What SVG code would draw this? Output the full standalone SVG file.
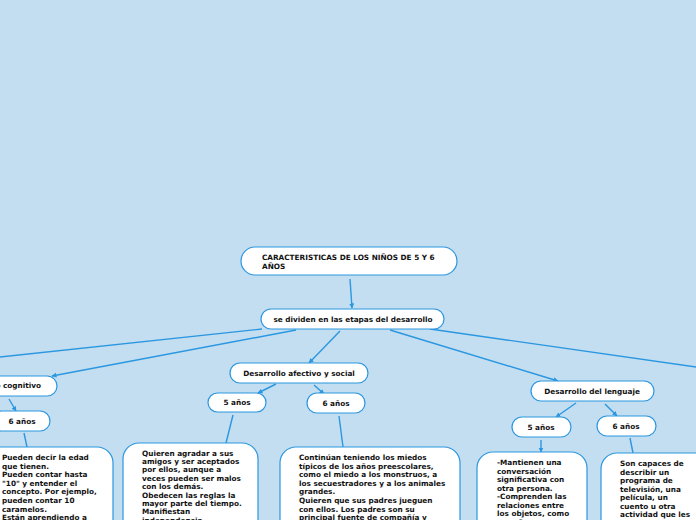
<svg xmlns="http://www.w3.org/2000/svg" width="696" height="520" viewBox="0 0 696 520">
<defs>
<style>
.bg{fill:#c3def1}
.n{fill:#ffffff;stroke:#2b97e0;stroke-width:1.2}
.t{font-family:"DejaVu Sans",Verdana,sans-serif;font-weight:bold;font-size:7.3px;fill:#111111}
.c{text-anchor:middle}
.e{stroke:#2b97e0;stroke-width:1.4;fill:none}
.a{marker-end:url(#ah)}
</style>
<marker id="ah" viewBox="0 0 10 10" refX="9" refY="5" markerWidth="5" markerHeight="5" orient="auto" markerUnits="userSpaceOnUse">
<path d="M0,0 L10,5 L0,10 z" fill="#2b97e0"/>
</marker>
</defs>
<rect class="bg" x="0" y="0" width="696" height="520"/>
<g id="connectors">
<line class="e a" x1="350" y1="279" x2="352" y2="308"/>
<line class="e a" x1="296" y1="330" x2="52" y2="376"/>
<line class="e" x1="262" y1="329" x2="-10" y2="358"/>
<line class="e a" x1="340" y1="331" x2="309" y2="363"/>
<line class="e a" x1="390" y1="330" x2="558" y2="381"/>
<line class="e" x1="430" y1="329" x2="710" y2="369"/>
<line class="e a" x1="9" y1="399" x2="16" y2="411"/>
<line class="e" x1="24" y1="433" x2="27" y2="447"/>
<line class="e a" x1="276" y1="384" x2="258" y2="393"/>
<line class="e a" x1="314" y1="385" x2="324" y2="394"/>
<line class="e" x1="233" y1="415" x2="226" y2="443"/>
<line class="e" x1="339" y1="416" x2="343" y2="447"/>
<line class="e a" x1="576" y1="403" x2="556" y2="417"/>
<line class="e a" x1="605" y1="404" x2="617" y2="416"/>
<line class="e a" x1="541" y1="440" x2="541" y2="452"/>
<line class="e" x1="630" y1="438" x2="633" y2="453"/>
</g>
<g id="root">
<rect class="n" x="241" y="247" width="216" height="28" rx="14"/>
<text class="t" x="262" y="260">CARACTERISTICAS DE LOS NIÑOS DE 5 Y 6</text>
<text class="t" x="262" y="269">AÑOS</text>
</g>
<g id="etapas">
<rect class="n" x="261" y="309" width="183" height="20" rx="10"/>
<text class="t c" x="353" y="322">se dividen en las etapas del desarrollo</text>
</g>
<g id="cognitivo">
<rect class="n" x="-60" y="376" width="117" height="20" rx="10"/>
<text class="t" x="41" y="388" text-anchor="end">Desarrollo cognitivo</text>
</g>
<g id="cog6">
<rect class="n" x="-8" y="411" width="58" height="20" rx="10"/>
<text class="t c" x="22" y="424">6 años</text>
</g>
<g id="cog6text">
<rect class="n" x="-20" y="447" width="133" height="100" rx="16"/>
<text class="t" x="2" y="460">Pueden decir la edad</text>
<text class="t" x="2" y="468.6">que tienen.</text>
<text class="t" x="2" y="477.2">Pueden contar hasta</text>
<text class="t" x="2" y="485.8">"10" y entender el</text>
<text class="t" x="2" y="494.4">concepto. Por ejemplo,</text>
<text class="t" x="2" y="503">pueden contar 10</text>
<text class="t" x="2" y="511.6">caramelos.</text>
<text class="t" x="2" y="520.2">Están aprendiendo a</text>
</g>
<g id="afectivo">
<rect class="n" x="230" y="363" width="138" height="20" rx="10"/>
<text class="t c" x="299" y="376">Desarrollo afectivo y social</text>
</g>
<g id="af5">
<rect class="n" x="208" y="393" width="58" height="19" rx="9.5"/>
<text class="t c" x="237" y="405">5 años</text>
</g>
<g id="af6">
<rect class="n" x="307" y="393" width="58" height="20" rx="10"/>
<text class="t c" x="336" y="406">6 años</text>
</g>
<g id="af5text">
<rect class="n" x="123" y="443" width="135" height="100" rx="16"/>
<text class="t" x="142" y="455.5">Quieren agradar a sus</text>
<text class="t" x="142" y="464">amigos y ser aceptados</text>
<text class="t" x="142" y="472.4">por ellos, aunque a</text>
<text class="t" x="142" y="480.8">veces pueden ser malos</text>
<text class="t" x="142" y="489.2">con los demás.</text>
<text class="t" x="142" y="497.6">Obedecen las reglas la</text>
<text class="t" x="142" y="506">mayor parte del tiempo.</text>
<text class="t" x="142" y="514.4">Manifiestan</text>
<text class="t" x="142" y="522.8">independencia</text>
</g>
<g id="af6text">
<rect class="n" x="280" y="447" width="180" height="100" rx="16"/>
<text class="t" x="299" y="460">Continúan teniendo los miedos</text>
<text class="t" x="299" y="468.6">típicos de los años preescolares,</text>
<text class="t" x="299" y="477.2">como el miedo a los monstruos, a</text>
<text class="t" x="299" y="485.8">los secuestradores y a los animales</text>
<text class="t" x="299" y="494.4">grandes.</text>
<text class="t" x="299" y="503">Quieren que sus padres jueguen</text>
<text class="t" x="299" y="511.6">con ellos. Los padres son su</text>
<text class="t" x="299" y="520.2">principal fuente de compañía y</text>
</g>
<g id="lenguaje">
<rect class="n" x="531" y="381" width="123" height="20" rx="10"/>
<text class="t c" x="592" y="394">Desarrollo del lenguaje</text>
</g>
<g id="len5">
<rect class="n" x="512" y="417" width="59" height="20" rx="10"/>
<text class="t c" x="541" y="430">5 años</text>
</g>
<g id="len6">
<rect class="n" x="597" y="416" width="59" height="20" rx="10"/>
<text class="t c" x="626" y="429">6 años</text>
</g>
<g id="len5text">
<rect class="n" x="477" y="452" width="110" height="100" rx="16"/>
<text class="t" x="497" y="465">-Mantienen una</text>
<text class="t" x="497" y="473.5">conversación</text>
<text class="t" x="497" y="482">significativa con</text>
<text class="t" x="497" y="490.5">otra persona.</text>
<text class="t" x="497" y="499">-Comprenden las</text>
<text class="t" x="497" y="507.5">relaciones entre</text>
<text class="t" x="497" y="516">los objetos, como</text>
<text class="t" x="497" y="524.5">tamaño</text>
</g>
<g id="len6text">
<rect class="n" x="601" y="453" width="120" height="100" rx="16"/>
<text class="t" x="620" y="466">Son capaces de</text>
<text class="t" x="620" y="474.5">describir un</text>
<text class="t" x="620" y="483">programa de</text>
<text class="t" x="620" y="491.5">televisión, una</text>
<text class="t" x="620" y="500">película, un</text>
<text class="t" x="620" y="508.5">cuento u otra</text>
<text class="t" x="620" y="517">actividad que les</text>
</g>
</svg>
